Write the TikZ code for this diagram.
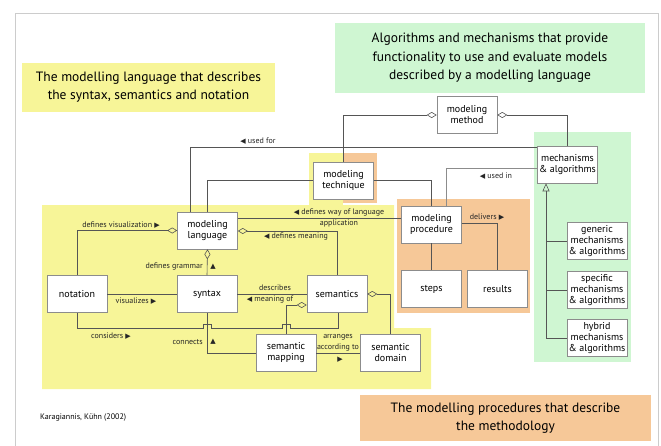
\documentclass[tikz,border=0pt]{standalone}
\usepackage{fontspec}
\setmainfont{PT Sans}
\newfontfamily\symfont{DejaVu Sans}
\usepackage{tikz}
\usetikzlibrary{arrows.meta}

\definecolor{langyellow}{RGB}{247,245,152}
\definecolor{mechgreen}{RGB}{207,246,210}
\definecolor{procorange}{RGB}{246,200,152}
\definecolor{boxgray}{RGB}{140,140,140}
\definecolor{linegray}{RGB}{85,85,85}

\newcommand{\rtri}{{\symfont\fontsize{7}{7}\selectfont ▶}}
\newcommand{\ltri}{{\symfont\fontsize{7}{7}\selectfont ◀}}
\newcommand{\utri}{{\symfont\fontsize{7}{7}\selectfont ▲}}

\begin{document}
\begin{tikzpicture}[x=1pt,y=-1pt,
    box/.style={draw=boxgray,fill=white,line width=0.6pt,minimum width=60pt,minimum height=37pt,inner sep=1pt,align=center,font=\fontsize{10}{11}\selectfont},
    conn/.style={draw=linegray,line width=0.6pt},
    agg/.style={conn,{Diamond[open,length=10pt,width=6pt]}-},
    lbl/.style={font=\fontsize{8}{11}\selectfont,inner sep=0pt,text=black!85},
    title/.style={align=center,inner sep=2pt,text=black,font=\fontsize{13.5}{18.5}\selectfont}]

      \useasboundingbox (0,0) rectangle (661,445);

      % draw frame
      \draw[black!20,line width=0.8pt] (15,460) -- (15,13) -- (658,13) -- (658,460);

      % draw coloured areas
      \fill[langyellow] (42,205) -- (394,205) -- (394,328) -- (431,328) -- (431,389) -- (42,389) -- cycle;
      \fill[langyellow] (309,153) rectangle (343,205);
      \fill[procorange] (343,153) rectangle (377,203);
      \fill[procorange] (397,199) rectangle (530,313);
      \fill[mechgreen] (534,132) rectangle (631,362);

      % draw titles
      \node[title,fill=langyellow,minimum width=253pt,minimum height=49pt] (langtitle) at (148.5,87) {The modelling language that describes\\the syntax, semantics and notation};
      \node[title,fill=mechgreen,minimum width=310pt,minimum height=70pt] (mechtitle) at (490,58) {Algorithms and mechanisms that provide\\functionality to use and evaluate models\\described by a modelling language};
      \node[title,fill=procorange,minimum width=291pt,minimum height=46pt] (proctitle) at (505.5,418) {The modelling procedures that describe\\the methodology};
      \node[anchor=west,inner sep=0pt,font=\fontsize{8}{9}\selectfont] (credit) at (40,418) {Karagiannis, Kühn (2002)};

      % draw nodes
      \node[box] (method) at (467,115) {modeling\\method};
      \node[box] (technique) at (343.5,180.5) {modeling\\technique};
      \node[box] (mech) at (567.5,164.5) {mechanisms\\\& algorithms};
      \node[box] (generic) at (597,241) {generic\\mechanisms\\\& algorithms};
      \node[box] (specific) at (597,290) {specific\\mechanisms\\\& algorithms};
      \node[box] (hybrid) at (597,338) {hybrid\\mechanisms\\\& algorithms};
      \node[box] (procedure) at (431.5,224.5) {modeling\\procedure};
      \node[box] (steps) at (431.5,289) {steps};
      \node[box] (results) at (497.5,289) {results};
      \node[box] (language) at (207.5,230.5) {modeling\\language};
      \node[box] (notation) at (77,294) {notation};
      \node[box] (syntax) at (207,294) {syntax};
      \node[box] (semantics) at (337,294) {semantics};
      \node[box] (mapping) at (286,353) {semantic\\mapping};
      \node[box] (domain) at (390.5,353) {semantic\\domain};

      % draw connectors
      \draw[agg] (method.west) -| (technique.north);
      \draw[agg] (method.east) -| (mech.north);
      \draw[conn] (190,0 |- language.north) |- (mech.west |- 0,147.5);
      \draw[conn] (technique.west) -| (207,0 |- language.north);
      \draw[conn] (technique.east) -| (procedure.north);
      \draw[conn,draw=black!45] (mech.west |- 0,168) -| (446,0 |- procedure.north);
      \draw[conn,-{Triangle[open,length=8pt,width=7pt]}] (546,0 |- hybrid.west) -- (546,0 |- mech.south);
      \foreach \sub in {generic,specific,hybrid}
      \draw[conn] (546,0 |- \sub.west) -- (\sub.west);
      \draw[conn] (procedure.east |- 0,223) -| (results.north);
      \draw[conn] (procedure.south) -- (steps.north);
      \draw[conn] (language.east |- 0,218) -- (procedure.west |- 0,218);
      \draw[agg] (language.east |- 0,231) -| (semantics.north);
      \draw[agg] (language.west) -| (notation.north);
      \draw[agg] (language.south) -- (syntax.north);
      \draw[conn] (notation.east) -- (syntax.west);
      \draw[conn] (syntax.east) -- (semantics.west);
      \draw[conn] (notation.south) |- (203,328) -- (203,324) -- (211,324) -- (211,328) -- (282,328) -- (282,324) -- (290,324) -- (290,328) -| (338,0 |- semantics.south);
      \draw[conn] (syntax.south) |- (mapping.west);
      \draw[agg] (semantics.west |- 0,305) -| (mapping.north);
      \draw[agg] (semantics.east) -| (domain.north);
      \draw[conn] (mapping.east) -- (domain.west);

      % draw labels
      \node[lbl] (usedfor) at (258,141) {\ltri\ used for};
      \node[lbl] (usedin) at (496,176) {\ltri\ used in};
      \node[lbl] (delivers) at (487,217) {delivers \rtri};
      \node[lbl,align=center] (wayof) at (339,218) {\ltri\ defines way of language\\application};
      \node[lbl] (meaning) at (296,237) {\ltri\ defines meaning};
      \node[lbl] (visual) at (121,225) {defines visualization \rtri};
      \node[lbl,anchor=east] (grammar) at (203,267) {defines grammar};
      \node[lbl] (grammartri) at (213,267) {\utri};
      \node[lbl] (visualizes) at (136,301) {visualizes \rtri};
      \node[lbl] (describes) at (275,288) {describes};
      \node[lbl] (meaningof) at (270,300) {\ltri\ meaning of};
      \node[lbl] (considers) at (111,336) {considers \rtri};
      \node[lbl,anchor=east] (connects) at (203,342) {connects};
      \node[lbl] (connectstri) at (213,342) {\utri};
      \node[lbl,align=center] (arranges) at (338,343) {arranges\\according to};
      \node[lbl] (arrangestri) at (340,360) {\rtri};

\end{tikzpicture}
\end{document}
